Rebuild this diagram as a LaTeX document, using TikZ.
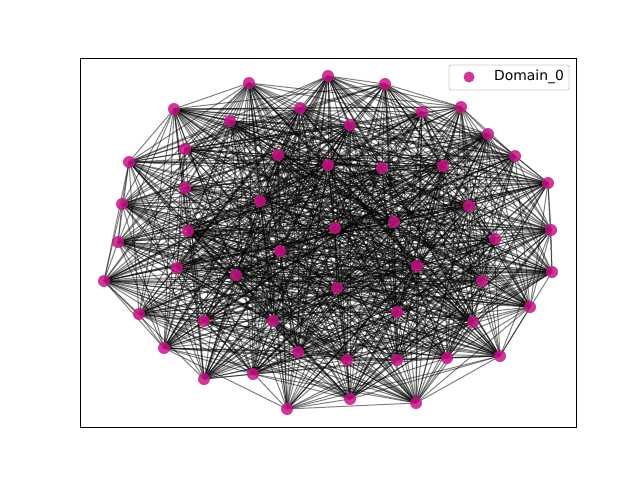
\documentclass[tikz,border=0pt]{standalone}
\usepackage{fontspec}
\setmainfont{DejaVu Sans}
\usepackage{tikz}
\definecolor{mvred}{HTML}{C71585}
\pgfdeclarelayer{bg}
\pgfsetlayers{bg,main}
\begin{document}
\begin{tikzpicture}[x=1pt, y=-1pt,
    vtx/.style = {circle, fill=mvred, fill opacity=0.85, inner sep=0pt, minimum size=12pt},
    edge/.style = {black, opacity=0.5, line width=1pt},
    legbox/.style = {draw=black!20, fill=white, fill opacity=0.8, rounded corners=2pt, line width=0.9pt}]
    \useasboundingbox (0,0) rectangle (640,480);
    % Nodes
    \foreach \x/\y [count=\i] in {
        328/76, 385/84, 249/83, 174/109, 300/108, 422/112, 461/107, 230/121,
        350/125, 488/134, 185/149, 278/155, 328/165, 382/168, 443/166, 515/156,
        129/162, 548/183, 185/188, 260/201, 122/204, 469/206, 394/222, 335/228,
        188/231, 551/230, 118/242, 495/239, 280/251, 177/268, 236/275, 417/266,
        552/272, 104/281, 482/281, 337/288, 530/307, 139/314, 204/321, 273/321,
        397/312, 473/322, 164/348, 298/352, 347/360, 397/360, 447/358, 500/356,
        253/374, 204/379, 287/409, 350/399, 416/403}
        \node[vtx] (n\i) at (\x,\y) {};
    % Edges
    \pgfmathsetseed{7}
    \begin{pgfonlayer}{bg}
    \foreach \i in {1,...,52} {
        \pgfmathtruncatemacro\s{\i+1}
        \foreach \j in {\s,...,53} {
            \pgfmathrandominteger{\r}{1}{100}
            \ifnum\r<68 \draw[edge] (n\i.center) -- (n\j.center); \fi
        }
    }
    \end{pgfonlayer}
    % Frame and legend
    \draw[line width=1pt] (80,58) rectangle (576,427);
    \draw[legbox] (449,65) rectangle (569,90);
    \node[vtx, minimum size=11pt] (legdot) at (469,77) {};
    \node[anchor=west, inner sep=0pt, font=\fontsize{13.9}{16}\selectfont] (legtext) at (494,77) {Domain\_0};
\end{tikzpicture}
\end{document}
